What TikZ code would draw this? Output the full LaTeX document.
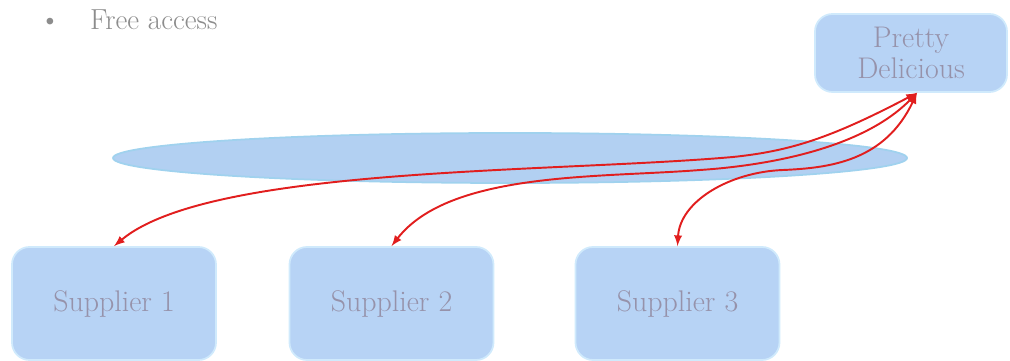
\documentclass[tikz,border=0pt]{standalone}
\usepackage{tikz}
\usetikzlibrary{arrows.meta}
\usetikzlibrary{shapes.geometric}

\definecolor{boxblue}{RGB}{183,211,245}
\definecolor{boxedge}{RGB}{208,234,252}
\definecolor{ringblue}{RGB}{178,208,242}
\definecolor{ringedge}{RGB}{160,210,238}
\definecolor{labelgrey}{RGB}{150,146,170}
\definecolor{bulletgrey}{RGB}{140,140,140}
\definecolor{linkred}{RGB}{225,30,30}

\tikzset{
    party/.style={draw=boxedge, line width=1pt, fill=boxblue, rounded corners=0.35cm,
        text=labelgrey, font=\fontsize{17}{18}\selectfont, align=center, inner sep=0pt},
    link/.style={draw=linkred, line width=1.1pt, latex-latex}
}

\begin{document}
\begin{tikzpicture}[]
\useasboundingbox (0,0) rectangle (20.2,7.22);

%%% BULLET TEXT %%%
\node[text=bulletgrey, font=\fontsize{14}{16}\selectfont] (dot) at (1.0,6.76) {\textbullet};
\node[text=bulletgrey, font=\fontsize{16.5}{18}\selectfont, anchor=base west] (free) at (1.68,6.62) {Free access};

%%% SHARED PLATFORM %%%
\node[ellipse, draw=ringedge, line width=1pt, fill=ringblue,
      minimum width=15.88cm, minimum height=1.0cm] (hub) at (10.2,4.06) {};

%%% PARTIES %%%
\node[party, minimum width=3.84cm, minimum height=1.56cm] (pd) at (18.22,6.16) {Pretty\\Delicious};
\node[party, minimum width=4.08cm, minimum height=2.26cm] (s1) at (2.28,1.15) {Supplier 1};
\node[party, minimum width=4.08cm, minimum height=2.26cm] (s2) at (7.83,1.15) {Supplier 2};
\node[party, minimum width=4.08cm, minimum height=2.26cm] (s3) at (13.55,1.15) {Supplier 3};

%%% LINKS %%%
\coordinate (pdfoot) at ([xshift=0.12cm]pd.south);
% where each link flattens out
\coordinate (via1) at (14.66,4.08);
\coordinate (via2) at (14.0,3.82);
\coordinate (via3) at (15.66,3.82);
\draw[link] (pdfoot) .. controls (16.6,4.45) and (15.8,4.2) .. (via1)
    .. controls (11.0,3.76) and (4.2,3.9) .. (s1.north);
\draw[link] (pdfoot) .. controls (17.2,4.2) and (15.2,3.9) .. (via2)
    .. controls (12,3.66) and (9,3.8) .. (s2.north);
\draw[link] (pdfoot) .. controls (17.7,4.0) and (16.6,3.86) .. (via3)
    .. controls (14.6,3.78) and (13.6,3.2) .. (s3.north);
\end{tikzpicture}
\end{document}
